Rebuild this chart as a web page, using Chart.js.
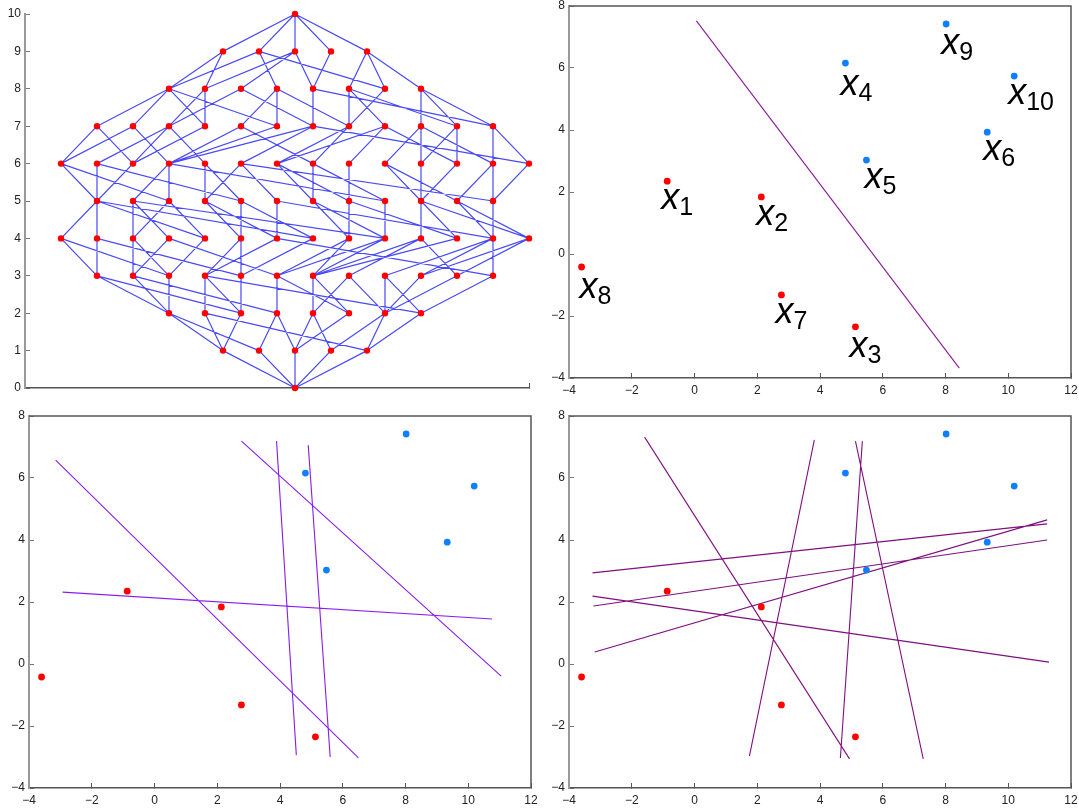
<!DOCTYPE html>
<html>
<head>
<meta charset="utf-8">
<style>
  html, body { margin: 0; padding: 0; background: #fff; }
  body { width: 1079px; height: 809px; position: relative; overflow: hidden; }
  canvas { position: absolute; }
</style>
<script src="https://cdn.jsdelivr.net/npm/chart.js@4"></script>
</head>
<body>
<canvas id="lattice"></canvas>
<canvas id="single"></canvas>
<canvas id="violet"></canvas>
<canvas id="purple"></canvas>
<script>
// lattice: nodes per level, by column
const level0 = [0];
const level1 = [-4, -2, 0, 2, 4];
const level2 = [-7, -5, -3, -1, 1, 3, 5, 7];
const level3 = [-11, -9, -7, -5, -3, -1, 1, 3, 5, 7, 9, 11];
const level4 = [-13, -11, -9, -7, -5, -3, -1, 1, 3, 5, 7, 9, 11, 13];
const level5 = [-11, -9, -7, -5, -3, -1, 1, 3, 5, 7, 9, 11];
const level6 = [-13, -11, -9, -7, -5, -3, -1, 1, 3, 5, 7, 9, 11, 13];
const level7 = [-11, -9, -7, -5, -3, -1, 1, 3, 5, 7, 9, 11];
const level8 = [-7, -5, -3, -1, 1, 3, 5, 7];
const level9 = [-4, -2, 0, 2, 4];
const level10 = [0];
const levels = [level0, level1, level2, level3, level4, level5, level6, level7, level8, level9, level10];

// lattice edges: [column above, column below]
const edges10to9 = [[0,-4],[0,-2],[0,0],[0,2],[0,4]];
const edges9to8 = [[-4,-7],[-4,-5],[-2,-7],[-2,-1],[-2,5],[0,-5],[0,-3],[0,1],[2,1],[4,3],[4,5],[4,7]];
const edges8to7 = [[-7,-11],[-7,-9],[-7,-5],[-7,-1],[-5,-7],[-5,-5],[-3,-7],[-3,1],[-1,-3],[-1,-1],[-1,3],[1,1],[1,11],[3,3],[3,5],[3,9],[5,3],[7,7],[7,9],[7,11]];
const edges7to6 = [[-11,-13],[-11,-9],[-9,-13],[-9,-7],[-7,-11],[-7,-9],[-7,-5],[-5,-9],[-3,-7],[-3,1],[-1,-7],[1,-7],[1,-3],[1,13],[3,-1],[3,1],[5,-1],[5,3],[5,9],[7,5],[7,7],[7,11],[9,7],[9,9],[11,11],[11,13]];
const edges6to5 = [[-13,-11],[-13,-7],[-11,-11],[-11,-3],[-9,-11],[-7,-9],[-7,-7],[-7,5],[-5,-5],[-5,-3],[-3,-5],[-3,-1],[-3,11],[-1,1],[-1,3],[1,1],[1,5],[3,3],[5,7],[5,9],[7,7],[9,7],[11,9],[11,11],[13,11]];
const edges5to4 = [[-11,-13],[-11,-11],[-11,-5],[-11,1],[-9,-9],[-9,-7],[-9,5],[-7,-9],[-7,-5],[-5,-3],[-5,-1],[-3,-3],[-3,1],[-1,-1],[-1,11],[1,3],[1,5],[3,3],[3,9],[5,5],[7,7],[7,9],[7,13],[9,11],[9,13],[11,11]];
const edges4to3 = [[-13,-11],[-13,-7],[-11,-11],[-11,-3],[-9,-9],[-9,-7],[-7,-9],[-7,-1],[-5,-7],[-3,-5],[-3,-3],[-1,-5],[-1,11],[1,-3],[3,-1],[3,1],[5,-1],[5,1],[7,1],[7,3],[7,9],[9,1],[11,5],[11,7],[11,11],[13,7],[13,9]];
const edges3to2 = [[-11,-7],[-11,-3],[-9,-7],[-9,-1],[-7,-7],[-5,-5],[-5,-3],[-5,7],[-3,-3],[-1,-1],[-1,3],[1,1],[1,3],[3,1],[3,5],[5,5],[5,7],[7,5],[9,5],[11,7]];
const edges2to1 = [[-7,-4],[-7,-2],[-5,-4],[-5,4],[-3,-4],[-1,-2],[-1,0],[1,0],[1,2],[3,0],[5,2],[5,4],[7,4]];
const edges1to0 = [[-4,0],[-2,0],[0,0],[2,0],[4,0]];
// index = level of the upper end
const edgesByLevel = {10: edges10to9, 9: edges9to8, 8: edges8to7, 7: edges7to6, 6: edges6to5, 5: edges5to4, 4: edges4to3, 3: edges3to2, 2: edges2to1, 1: edges1to0};

// the ten samples
const sampleX = [-0.87, 2.13, 5.13, 4.81, 5.48, 9.33, 2.77, -3.6, 8.02, 10.19];
const sampleY = [2.35, 1.84, -2.35, 6.16, 3.03, 3.93, -1.32, -0.42, 7.42, 5.74];
const sampleClass = [0, 0, 0, 1, 1, 1, 0, 0, 1, 1];
const sampleSub = ["1", "2", "3", "4", "5", "6", "7", "8", "9", "10"];

// separating lines as [x1, y1, x2, y2]
const singleLine = [[0.06, 7.52, 8.44, -3.68]];
const violetLines = [
  [-3.15, 6.58, 6.5, -3.03],
  [2.77, 7.19, 11.05, -0.39],
  [3.89, 7.19, 4.52, -2.94],
  [4.9, 7.06, 5.6, -3.0],
  [-2.93, 2.32, 10.76, 1.45]
];
const purpleLines = [
  [-1.59, 7.32, 4.94, -3.06],
  [1.75, -2.97, 3.82, 7.23],
  [4.65, -3.03, 5.35, 7.19],
  [5.13, 7.19, 7.29, -3.06],
  [-3.25, 2.94, 11.24, 4.52],
  [-3.22, 1.87, 11.24, 4.0],
  [-3.18, 0.39, 11.24, 4.65],
  [-3.25, 2.19, 11.3, 0.06]
];

const RED = "#ff0000";
const BLUE = "#0f7fff";
const FONT = "'Liberation Sans', sans-serif";

// nudges for the captions, by sample
const captionDx = [0, 1, 0, 1, 4, 2, 0, 4, 1, 0];
const captionDy = [0, 0, 2, 4, 0, 0, 0, 3, 2, 0];

function fmt(v){ return String(v).replace("-", "\u2212"); }

function segments(list){
  const pts = [];
  list.forEach(l=>{
    pts.push({x:l[0], y:l[1]}, {x:l[2], y:l[3]}, {x:null, y:null});
  });
  return pts;
}

function pointsDataset(){
  return {
    type: "scatter",
    data: sampleX.map((x,i)=>({x, y:sampleY[i]})),
    pointRadius: 3.4,
    pointHoverRadius: 3.4,
    pointBorderWidth: 0,
    pointBackgroundColor: sampleClass.map(c=>c ? BLUE : RED),
    clip: false,
    order: 1
  };
}

function lineDataset(list, color, width){
  return {
    type: "scatter",
    data: segments(list),
    showLine: true,
    spanGaps: false,
    borderColor: color,
    borderWidth: width,
    pointRadius: 0,
    clip: false,
    order: 2
  };
}

// top and right sides of the box
const framePlugin = {
  id: "frame",
  afterDraw(chart, args, opts){
    if(!opts.on) return;
    const a = chart.chartArea, c = chart.ctx;
    c.save();
    c.strokeStyle = "#555";
    c.lineWidth = 1.5;
    c.beginPath();
    c.moveTo(a.left, a.top); c.lineTo(a.right, a.top); c.lineTo(a.right, a.bottom);
    c.stroke();
    c.restore();
  }
};

// big x_i captions next to the samples
const captionPlugin = {
  id: "captions",
  afterDatasetsDraw(chart, args, opts){
    if(!opts.on) return;
    const c = chart.ctx, sx = chart.scales.x, sy = chart.scales.y;
    c.save();
    c.fillStyle = "#000";
    c.textBaseline = "alphabetic";
    sampleSub.forEach((s,i)=>{
      const px = sx.getPixelForValue(sampleX[i]) - 6 + captionDx[i];
      const py = sy.getPixelForValue(sampleY[i]) + 28 + captionDy[i];
      c.font = "italic 36px " + FONT;
      c.fillText("x", px, py);
      const w = c.measureText("x").width;
      c.font = "25px " + FONT;
      c.fillText(s, px + w, py + 6);
    });
    c.restore();
  }
};

// labels must not push the plot area around
function noPadding(s){
  s.paddingTop = 0; s.paddingBottom = 0; s.paddingLeft = 0; s.paddingRight = 0;
}

function makeChart(id, frame, box, datasets, xs, ys, plugins){
  const el = document.getElementById(id);
  el.style.left = frame.x + "px";
  el.style.top = frame.y + "px";
  el.width = frame.w;
  el.height = frame.h;
  return new Chart(el, {
    data: { datasets },
    plugins: [framePlugin, captionPlugin],
    options: {
      responsive: false,
      animation: false,
      layout: { padding: { top: box.top - frame.y, right: frame.x + frame.w - box.right, left: 0, bottom: 0 } },
      plugins: { legend: { display: false }, tooltip: { enabled: false }, frame: { on: plugins.frame }, captions: { on: plugins.captions } },
      scales: {
        x: Object.assign({
          type: "linear",
          afterFit(s){ s.height = frame.y + frame.h - box.bottom; noPadding(s); },
          border: { color: "#555", width: 1.5 },
          grid: { drawOnChartArea: false, tickLength: -5, tickColor: "#555", tickWidth: 1 }
        }, xs),
        y: Object.assign({
          type: "linear",
          afterFit(s){ s.width = box.left - frame.x; noPadding(s); },
          border: { color: "#999", width: 2 },
          grid: { drawOnChartArea: false, tickLength: -5, tickColor: "#777", tickWidth: 1 }
        }, ys)
      }
    }
  });
}

function sampleAxes(){
  const ticks = { color: "#222", font: { family: FONT, size: 12 }, stepSize: 2, callback: fmt, maxRotation: 0, autoSkip: false };
  return {
    x: { min: -4, max: 12, ticks: Object.assign({ padding: 10 }, ticks) },
    y: { min: -4, max: 8, ticks: Object.assign({ padding: 9 }, ticks) }
  };
}

// lattice panel
const nodePoints = [];
levels.forEach((cols,lv)=>cols.forEach(k=>nodePoints.push({x:k, y:lv})));
const edgeList = [];
Object.keys(edgesByLevel).forEach(k=>{
  const lv = Number(k);
  edgesByLevel[k].forEach(e=>edgeList.push([e[0], lv, e[1], lv-1]));
});

makeChart("lattice", {x:0,y:0,w:548,h:400}, {left:25,top:14,right:529,bottom:388}, [
  { type:"scatter", data:nodePoints, pointRadius:3.2, pointHoverRadius:3.2, pointBorderWidth:0, pointBackgroundColor:RED, clip:false, order:1 },
  lineDataset(edgeList, "#4a4af5", 1.2)
], {
  min:-15, max:13,
  afterBuildTicks(s){ s.ticks = [{value:13}]; },
  ticks:{ callback(){ return ""; } }
}, {
  min:0, max:10,
  ticks:{ color:"#222", font:{family:FONT,size:12}, stepSize:1, padding:9 }
}, {frame:false, captions:false});

// top right: one line, labelled samples
let ax = sampleAxes();
makeChart("single", {x:548,y:0,w:531,h:400}, {left:569,top:6,right:1071,bottom:378}, [
  pointsDataset(), lineDataset(singleLine, "#8b1a9b", 1.1)
], ax.x, ax.y, {frame:true, captions:true});

// bottom left: five lines
ax = sampleAxes();
makeChart("violet", {x:0,y:400,w:548,h:409}, {left:29,top:416,right:531,bottom:788}, [
  pointsDataset(), lineDataset(violetLines, "#8a1cf0", 1.1)
], ax.x, ax.y, {frame:true, captions:false});

// bottom right: eight lines
ax = sampleAxes();
makeChart("purple", {x:548,y:400,w:531,h:409}, {left:569,top:416,right:1071,bottom:788}, [
  pointsDataset(), lineDataset(purpleLines, "#801080", 1.1)
], ax.x, ax.y, {frame:true, captions:false});
</script>
</body>
</html>
